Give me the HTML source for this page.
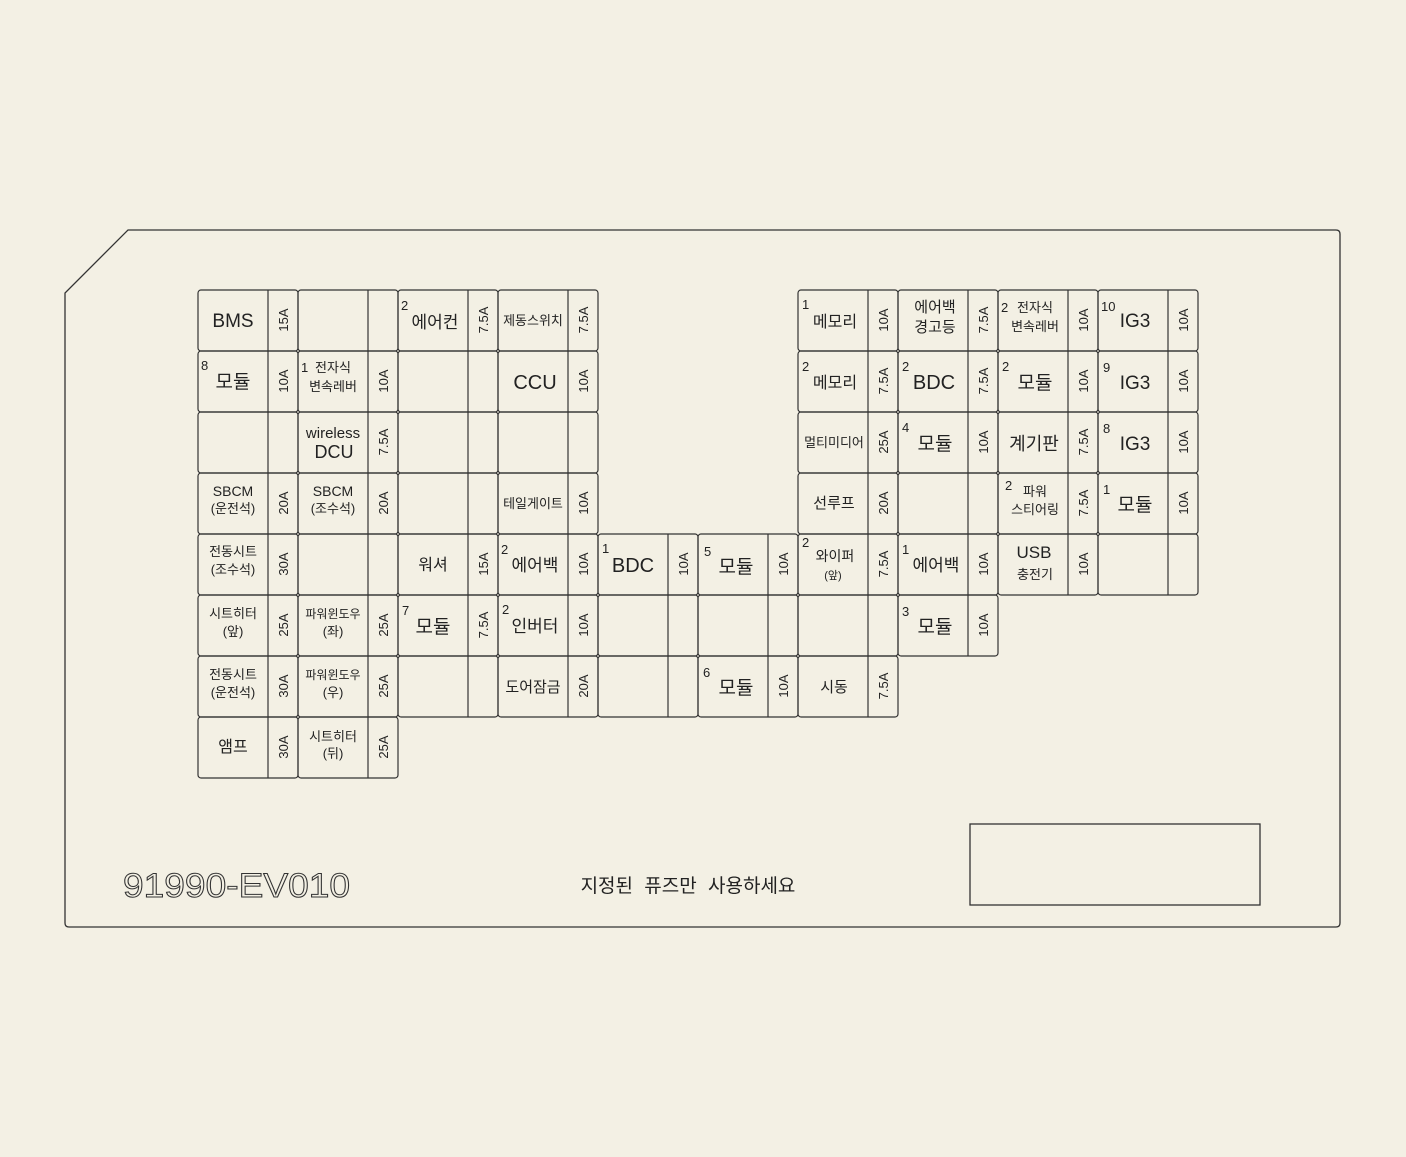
<!DOCTYPE html>
<html><head><meta charset="utf-8"><style>
html,body{margin:0;padding:0;background:#f3f0e4;}
svg{display:block;}
text{font-family:"Liberation Sans","Noto Sans CJK KR",sans-serif;fill:#222;}
.l{font-size:19px;text-anchor:middle;}
.s{font-size:13px;text-anchor:middle;}
.a{font-size:13px;text-anchor:middle;}
.n{font-size:13px;}
rect.c{fill:none;stroke:#333;stroke-width:1.2;}
line{stroke:#333;stroke-width:1.2;}
</style></head><body>
<svg width="1406" height="1157" viewBox="0 0 1406 1157">
<path d="M128,230 L1336,230 Q1340,230 1340,234 L1340,923 Q1340,927 1336,927 L69,927 Q65,927 65,923 L65,293 Z" fill="none" stroke="#333" stroke-width="1.3"/>
<rect x="970" y="824" width="290" height="81" fill="none" stroke="#333" stroke-width="1.3"/>
<text x="123" y="897" textLength="227" lengthAdjust="spacingAndGlyphs" style="font-size:34px;fill:none;stroke:#333;stroke-width:1">91990-EV010</text>
<text x="688" y="892" style="font-size:19px;text-anchor:middle;word-spacing:6px">지정된 퓨즈만 사용하세요</text>

<g id="cells">
<rect class="c" x="198" y="290" width="100" height="61" rx="3"/><line x1="268" y1="290" x2="268" y2="351"/><text class="l" x="233" y="327">BMS</text><text class="a" transform="translate(288,320) rotate(-90)">15A</text>
<rect class="c" x="298" y="290" width="100" height="61" rx="3"/><line x1="368" y1="290" x2="368" y2="351"/>
<rect class="c" x="398" y="290" width="100" height="61" rx="3"/><line x1="468" y1="290" x2="468" y2="351"/><text class="n" x="401" y="310">2</text><text class="l" x="435" y="328" style="font-size:17px">에어컨</text><text class="a" transform="translate(488,320) rotate(-90)">7.5A</text>
<rect class="c" x="498" y="290" width="100" height="61" rx="3"/><line x1="568" y1="290" x2="568" y2="351"/><text class="s" x="533" y="325">제동스위치</text><text class="a" transform="translate(588,320) rotate(-90)">7.5A</text>
<rect class="c" x="798" y="290" width="100" height="61" rx="3"/><line x1="868" y1="290" x2="868" y2="351"/><text class="n" x="802" y="309">1</text><text class="l" x="835" y="327" style="font-size:16px">메모리</text><text class="a" transform="translate(888,320) rotate(-90)">10A</text>
<rect class="c" x="898" y="290" width="100" height="61" rx="3"/><line x1="968" y1="290" x2="968" y2="351"/><text class="s" x="935" y="312" style="font-size:15px">에어백</text><text class="s" x="935" y="332" style="font-size:15px">경고등</text><text class="a" transform="translate(988,320) rotate(-90)">7.5A</text>
<rect class="c" x="998" y="290" width="100" height="61" rx="3"/><line x1="1068" y1="290" x2="1068" y2="351"/><text class="n" x="1001" y="312">2</text><text class="s" x="1035" y="312">전자식</text><text class="s" x="1035" y="331">변속레버</text><text class="a" transform="translate(1088,320) rotate(-90)">10A</text>
<rect class="c" x="1098" y="290" width="100" height="61" rx="3"/><line x1="1168" y1="290" x2="1168" y2="351"/><text class="n" x="1101" y="311">10</text><text class="l" x="1135" y="327">IG3</text><text class="a" transform="translate(1188,320) rotate(-90)">10A</text>
<rect class="c" x="198" y="351" width="100" height="61" rx="3"/><line x1="268" y1="351" x2="268" y2="412"/><text class="n" x="201" y="370">8</text><text class="l" x="233" y="388">모듈</text><text class="a" transform="translate(288,381) rotate(-90)">10A</text>
<rect class="c" x="298" y="351" width="100" height="61" rx="3"/><line x1="368" y1="351" x2="368" y2="412"/><text class="n" x="301" y="372">1</text><text class="s" x="333" y="372">전자식</text><text class="s" x="333" y="391">변속레버</text><text class="a" transform="translate(388,381) rotate(-90)">10A</text>
<rect class="c" x="398" y="351" width="100" height="61" rx="3"/><line x1="468" y1="351" x2="468" y2="412"/>
<rect class="c" x="498" y="351" width="100" height="61" rx="3"/><line x1="568" y1="351" x2="568" y2="412"/><text class="l" x="535" y="389" style="font-size:20px">CCU</text><text class="a" transform="translate(588,381) rotate(-90)">10A</text>
<rect class="c" x="798" y="351" width="100" height="61" rx="3"/><line x1="868" y1="351" x2="868" y2="412"/><text class="n" x="802" y="371">2</text><text class="l" x="835" y="388" style="font-size:16px">메모리</text><text class="a" transform="translate(888,381) rotate(-90)">7.5A</text>
<rect class="c" x="898" y="351" width="100" height="61" rx="3"/><line x1="968" y1="351" x2="968" y2="412"/><text class="n" x="902" y="371">2</text><text class="l" x="934" y="389" style="font-size:20px">BDC</text><text class="a" transform="translate(988,381) rotate(-90)">7.5A</text>
<rect class="c" x="998" y="351" width="100" height="61" rx="3"/><line x1="1068" y1="351" x2="1068" y2="412"/><text class="n" x="1002" y="371">2</text><text class="l" x="1035" y="389">모듈</text><text class="a" transform="translate(1088,381) rotate(-90)">10A</text>
<rect class="c" x="1098" y="351" width="100" height="61" rx="3"/><line x1="1168" y1="351" x2="1168" y2="412"/><text class="n" x="1103" y="372">9</text><text class="l" x="1135" y="389">IG3</text><text class="a" transform="translate(1188,381) rotate(-90)">10A</text>
<rect class="c" x="198" y="412" width="100" height="61" rx="3"/><line x1="268" y1="412" x2="268" y2="473"/>
<rect class="c" x="298" y="412" width="100" height="61" rx="3"/><line x1="368" y1="412" x2="368" y2="473"/><text class="s" x="333" y="438" style="font-size:15px">wireless</text><text class="l" x="334" y="458" style="font-size:18px">DCU</text><text class="a" transform="translate(388,442) rotate(-90)">7.5A</text>
<rect class="c" x="398" y="412" width="100" height="61" rx="3"/><line x1="468" y1="412" x2="468" y2="473"/>
<rect class="c" x="498" y="412" width="100" height="61" rx="3"/><line x1="568" y1="412" x2="568" y2="473"/>
<rect class="c" x="798" y="412" width="100" height="61" rx="3"/><line x1="868" y1="412" x2="868" y2="473"/><text class="s" x="834" y="447">멀티미디어</text><text class="a" transform="translate(888,442) rotate(-90)">25A</text>
<rect class="c" x="898" y="412" width="100" height="61" rx="3"/><line x1="968" y1="412" x2="968" y2="473"/><text class="n" x="902" y="432">4</text><text class="l" x="935" y="450">모듈</text><text class="a" transform="translate(988,442) rotate(-90)">10A</text>
<rect class="c" x="998" y="412" width="100" height="61" rx="3"/><line x1="1068" y1="412" x2="1068" y2="473"/><text class="l" x="1034" y="450" style="font-size:18px">계기판</text><text class="a" transform="translate(1088,442) rotate(-90)">7.5A</text>
<rect class="c" x="1098" y="412" width="100" height="61" rx="3"/><line x1="1168" y1="412" x2="1168" y2="473"/><text class="n" x="1103" y="433">8</text><text class="l" x="1135" y="450">IG3</text><text class="a" transform="translate(1188,442) rotate(-90)">10A</text>
<rect class="c" x="198" y="473" width="100" height="61" rx="3"/><line x1="268" y1="473" x2="268" y2="534"/><text class="s" x="233" y="496" style="font-size:14px">SBCM</text><text class="s" x="233" y="513">(운전석)</text><text class="a" transform="translate(288,503) rotate(-90)">20A</text>
<rect class="c" x="298" y="473" width="100" height="61" rx="3"/><line x1="368" y1="473" x2="368" y2="534"/><text class="s" x="333" y="496" style="font-size:14px">SBCM</text><text class="s" x="333" y="513">(조수석)</text><text class="a" transform="translate(388,503) rotate(-90)">20A</text>
<rect class="c" x="398" y="473" width="100" height="61" rx="3"/><line x1="468" y1="473" x2="468" y2="534"/>
<rect class="c" x="498" y="473" width="100" height="61" rx="3"/><line x1="568" y1="473" x2="568" y2="534"/><text class="s" x="533" y="508">테일게이트</text><text class="a" transform="translate(588,503) rotate(-90)">10A</text>
<rect class="c" x="798" y="473" width="100" height="61" rx="3"/><line x1="868" y1="473" x2="868" y2="534"/><text class="s" x="834" y="508" style="font-size:15px">선루프</text><text class="a" transform="translate(888,503) rotate(-90)">20A</text>
<rect class="c" x="898" y="473" width="100" height="61" rx="3"/><line x1="968" y1="473" x2="968" y2="534"/>
<rect class="c" x="998" y="473" width="100" height="61" rx="3"/><line x1="1068" y1="473" x2="1068" y2="534"/><text class="n" x="1005" y="490">2</text><text class="s" x="1035" y="496">파워</text><text class="s" x="1035" y="514">스티어링</text><text class="a" transform="translate(1088,503) rotate(-90)">7.5A</text>
<rect class="c" x="1098" y="473" width="100" height="61" rx="3"/><line x1="1168" y1="473" x2="1168" y2="534"/><text class="n" x="1103" y="494">1</text><text class="l" x="1135" y="511">모듈</text><text class="a" transform="translate(1188,503) rotate(-90)">10A</text>
<rect class="c" x="198" y="534" width="100" height="61" rx="3"/><line x1="268" y1="534" x2="268" y2="595"/><text class="s" x="233" y="556">전동시트</text><text class="s" x="233" y="574">(조수석)</text><text class="a" transform="translate(288,564) rotate(-90)">30A</text>
<rect class="c" x="298" y="534" width="100" height="61" rx="3"/><line x1="368" y1="534" x2="368" y2="595"/>
<rect class="c" x="398" y="534" width="100" height="61" rx="3"/><line x1="468" y1="534" x2="468" y2="595"/><text class="l" x="433" y="570" style="font-size:16px">워셔</text><text class="a" transform="translate(488,564) rotate(-90)">15A</text>
<rect class="c" x="498" y="534" width="100" height="61" rx="3"/><line x1="568" y1="534" x2="568" y2="595"/><text class="n" x="501" y="554">2</text><text class="l" x="535" y="571" style="font-size:17px">에어백</text><text class="a" transform="translate(588,564) rotate(-90)">10A</text>
<rect class="c" x="598" y="534" width="100" height="61" rx="3"/><line x1="668" y1="534" x2="668" y2="595"/><text class="n" x="602" y="553">1</text><text class="l" x="633" y="572" style="font-size:20px">BDC</text><text class="a" transform="translate(688,564) rotate(-90)">10A</text>
<rect class="c" x="698" y="534" width="100" height="61" rx="3"/><line x1="768" y1="534" x2="768" y2="595"/><text class="n" x="704" y="556">5</text><text class="l" x="736" y="573">모듈</text><text class="a" transform="translate(788,564) rotate(-90)">10A</text>
<rect class="c" x="798" y="534" width="100" height="61" rx="3"/><line x1="868" y1="534" x2="868" y2="595"/><text class="n" x="802" y="547">2</text><text class="s" x="835" y="561" style="font-size:14px">와이퍼</text><text class="s" x="833" y="579" style="font-size:11px">(앞)</text><text class="a" transform="translate(888,564) rotate(-90)">7.5A</text>
<rect class="c" x="898" y="534" width="100" height="61" rx="3"/><line x1="968" y1="534" x2="968" y2="595"/><text class="n" x="902" y="554">1</text><text class="l" x="936" y="571" style="font-size:17px">에어백</text><text class="a" transform="translate(988,564) rotate(-90)">10A</text>
<rect class="c" x="998" y="534" width="100" height="61" rx="3"/><line x1="1068" y1="534" x2="1068" y2="595"/><text class="l" x="1034" y="558" style="font-size:17px">USB</text><text class="s" x="1035" y="579">충전기</text><text class="a" transform="translate(1088,564) rotate(-90)">10A</text>
<rect class="c" x="1098" y="534" width="100" height="61" rx="3"/><line x1="1168" y1="534" x2="1168" y2="595"/>
<rect class="c" x="198" y="595" width="100" height="61" rx="3"/><line x1="268" y1="595" x2="268" y2="656"/><text class="s" x="233" y="618">시트히터</text><text class="s" x="233" y="636">(앞)</text><text class="a" transform="translate(288,625) rotate(-90)">25A</text>
<rect class="c" x="298" y="595" width="100" height="61" rx="3"/><line x1="368" y1="595" x2="368" y2="656"/><text class="s" x="333" y="618" style="font-size:12px">파워윈도우</text><text class="s" x="333" y="636">(좌)</text><text class="a" transform="translate(388,625) rotate(-90)">25A</text>
<rect class="c" x="398" y="595" width="100" height="61" rx="3"/><line x1="468" y1="595" x2="468" y2="656"/><text class="n" x="402" y="615">7</text><text class="l" x="433" y="633">모듈</text><text class="a" transform="translate(488,625) rotate(-90)">7.5A</text>
<rect class="c" x="498" y="595" width="100" height="61" rx="3"/><line x1="568" y1="595" x2="568" y2="656"/><text class="n" x="502" y="614">2</text><text class="l" x="535" y="632" style="font-size:17px">인버터</text><text class="a" transform="translate(588,625) rotate(-90)">10A</text>
<rect class="c" x="598" y="595" width="100" height="61" rx="3"/><line x1="668" y1="595" x2="668" y2="656"/>
<rect class="c" x="698" y="595" width="100" height="61" rx="3"/><line x1="768" y1="595" x2="768" y2="656"/>
<rect class="c" x="798" y="595" width="100" height="61" rx="3"/><line x1="868" y1="595" x2="868" y2="656"/>
<rect class="c" x="898" y="595" width="100" height="61" rx="3"/><line x1="968" y1="595" x2="968" y2="656"/><text class="n" x="902" y="616">3</text><text class="l" x="935" y="633">모듈</text><text class="a" transform="translate(988,625) rotate(-90)">10A</text>
<rect class="c" x="198" y="656" width="100" height="61" rx="3"/><line x1="268" y1="656" x2="268" y2="717"/><text class="s" x="233" y="679">전동시트</text><text class="s" x="233" y="697">(운전석)</text><text class="a" transform="translate(288,686) rotate(-90)">30A</text>
<rect class="c" x="298" y="656" width="100" height="61" rx="3"/><line x1="368" y1="656" x2="368" y2="717"/><text class="s" x="333" y="679" style="font-size:12px">파워윈도우</text><text class="s" x="333" y="697">(우)</text><text class="a" transform="translate(388,686) rotate(-90)">25A</text>
<rect class="c" x="398" y="656" width="100" height="61" rx="3"/><line x1="468" y1="656" x2="468" y2="717"/>
<rect class="c" x="498" y="656" width="100" height="61" rx="3"/><line x1="568" y1="656" x2="568" y2="717"/><text class="s" x="533" y="692" style="font-size:15px">도어잠금</text><text class="a" transform="translate(588,686) rotate(-90)">20A</text>
<rect class="c" x="598" y="656" width="100" height="61" rx="3"/><line x1="668" y1="656" x2="668" y2="717"/>
<rect class="c" x="698" y="656" width="100" height="61" rx="3"/><line x1="768" y1="656" x2="768" y2="717"/><text class="n" x="703" y="677">6</text><text class="l" x="736" y="694">모듈</text><text class="a" transform="translate(788,686) rotate(-90)">10A</text>
<rect class="c" x="798" y="656" width="100" height="61" rx="3"/><line x1="868" y1="656" x2="868" y2="717"/><text class="s" x="834" y="692" style="font-size:15px">시동</text><text class="a" transform="translate(888,686) rotate(-90)">7.5A</text>
<rect class="c" x="198" y="717" width="100" height="61" rx="3"/><line x1="268" y1="717" x2="268" y2="778"/><text class="l" x="233" y="752" style="font-size:16px">앰프</text><text class="a" transform="translate(288,747) rotate(-90)">30A</text>
<rect class="c" x="298" y="717" width="100" height="61" rx="3"/><line x1="368" y1="717" x2="368" y2="778"/><text class="s" x="333" y="741">시트히터</text><text class="s" x="333" y="758">(뒤)</text><text class="a" transform="translate(388,747) rotate(-90)">25A</text>
</g>
</svg>
</body></html>
